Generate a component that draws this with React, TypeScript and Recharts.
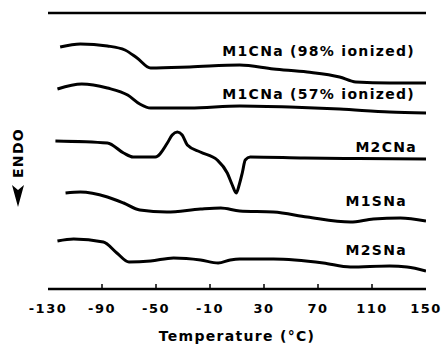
import { LineChart, Line, XAxis, YAxis, ReferenceLine, Customized } from "recharts"

// temperatures (°C) and arbitrary heat-flow offsets
const m1cna98T = [-121, -106, -86, -73, -64, -54, -25, 12, 37, 62, 86, 98, 123, 150]
const m1cna98Y = [242, 245, 243, 239, 231, 221, 222, 224, 220, 217, 212, 207, 206, 206]

const m1cna57T = [-123, -105, -86, -71, -62, -54, -25, 12, 49, 86, 123, 150]
const m1cna57Y = [200, 205, 201, 194, 185, 181, 181, 183, 182, 180, 177, 176]

const m2cnaT = [-124.5, -86, -74, -67, -50.5, -41.6, -38, -34.2, -30.6, -26.8, -17.2, -4.6, 2.8, 6.5, 9.4, 11.6, 13.9, 16.1, 19.8, 60, 100, 150]
const m2cnaY = [148, 146, 136, 132, 132, 146, 154, 157, 154, 144, 137, 129, 116, 104, 96, 104, 116, 129, 132, 131, 130.5, 130]

const m1snaT = [-117, -106, -86, -74, -62, -42, -17, -2, 12, 37, 62, 94, 111, 131, 150]
const m1snaY = [96, 97, 92, 86, 79, 77, 80, 81, 78, 77, 72, 67, 70, 71, 68]

const m2snaT = [-123, -111, -89, -79, -70, -54, -37, -17, -4, 5, 12, 37, 74, 94, 123, 136, 150]
const m2snaY = [48, 50, 47, 36, 27, 28, 31, 29, 26, 29, 30, 30, 26, 22, 23, 22, 18]

const xTicks = [-130, -90, -50, -10, 30, 70, 110, 150]

const toRows = (ts: number[], ys: number[]) => ts.map((t, i) => ({ t, v: ys[i] }))

const series = [
  toRows(m1cna98T, m1cna98Y),
  toRows(m1cna57T, m1cna57Y),
  toRows(m2cnaT, m2cnaY),
  toRows(m1snaT, m1snaY),
  toRows(m2snaT, m2snaY),
]

const font = "'DejaVu Sans', sans-serif"

const TempTick = (props: any) => {
  const { x, y, payload } = props
  const edge = payload.value === -130 || payload.value === 150
  return (
    <g>
      {!edge && <line x1={x} x2={x} y1={y} y2={y - 5} stroke="#000" strokeWidth={1.5} />}
      <text x={x} y={y + 24} textAnchor="middle" fontFamily={font} fontWeight="bold" fontSize={13} letterSpacing={1.5} fill="#000">
        {payload.value}
      </text>
    </g>
  )
}

const labelStyle = { fontFamily: font, fontWeight: "bold" as const, fontSize: 14, letterSpacing: 1.3, fill: "#000" }

const Labels = () => (
  <g>
    <text x={415} y={56} textAnchor="end" {...labelStyle}>M1CNa (98% ionized)</text>
    <text x={415} y={99} textAnchor="end" {...labelStyle}>M1CNa (57% ionized)</text>
    <text x={417} y={152} textAnchor="end" {...labelStyle}>M2CNa</text>
    <text x={407} y={206} textAnchor="end" {...labelStyle}>M1SNa</text>
    <text x={407} y={255} textAnchor="end" {...labelStyle}>M2SNa</text>
    <text x={237} y={341} textAnchor="middle" {...labelStyle}>Temperature (°C)</text>
    <text x={0} y={0} transform="translate(23,153) rotate(-90)" textAnchor="middle" {...labelStyle}>ENDO</text>
    <polygon points="12,185 18,190 24,185 18,207" fill="#000" />
  </g>
)

export default function App() {
  return (
    <div style={{ position: "absolute", left: 0, top: 0, background: "#fff" }}>
      <LineChart width={441} height={347} margin={{ top: 13, right: 15, bottom: 0, left: 48 }}>
        <XAxis
          dataKey="t"
          type="number"
          domain={[-130, 150]}
          ticks={xTicks}
          allowDataOverflow
          height={58}
          tickSize={0}
          tickMargin={0}
          tick={TempTick}
          axisLine={{ stroke: "#000", strokeWidth: 2.5 }}
        />
        <YAxis
          type="number"
          domain={[0, 276]}
          width={0}
          tick={false}
          tickLine={false}
          axisLine={{ stroke: "#555", strokeWidth: 1, strokeDasharray: "6 4" }}
        />
        <YAxis
          yAxisId="r"
          orientation="right"
          type="number"
          domain={[0, 276]}
          width={0}
          tick={false}
          tickLine={false}
          axisLine={{ stroke: "#888", strokeWidth: 1, strokeDasharray: "2 6" }}
        />
        <ReferenceLine y={276} stroke="#000" strokeWidth={2.5} />
        {series.map((rows, i) => (
          <Line
            key={i}
            data={rows}
            dataKey="v"
            type="monotone"
            stroke="#000"
            strokeWidth={3}
            dot={false}
            isAnimationActive={false}
          />
        ))}
        <Customized component={Labels} />
      </LineChart>
    </div>
  )
}
